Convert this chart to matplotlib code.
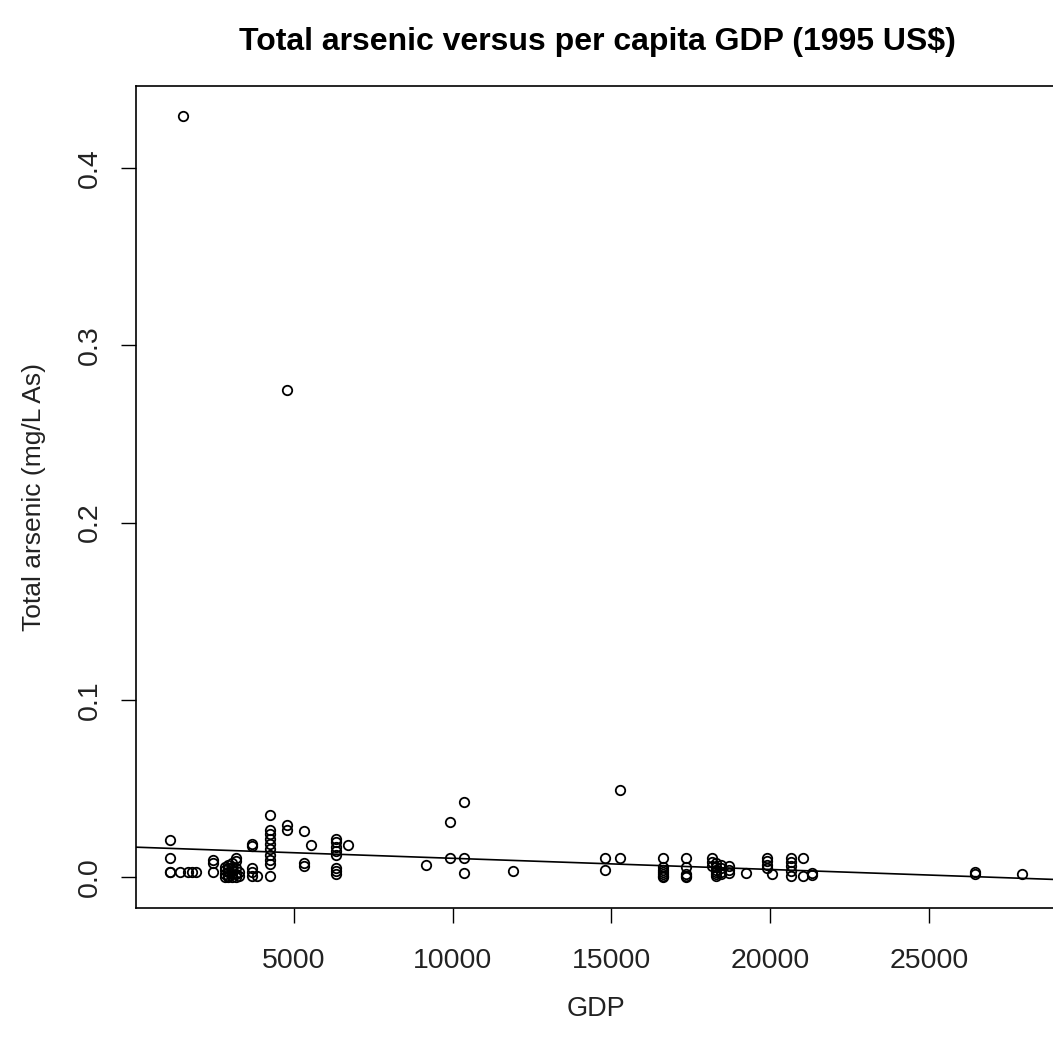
import numpy as np
import matplotlib
matplotlib.use('Agg')
import matplotlib.pyplot as plt

plt.rcParams['font.family'] = ['Liberation Sans', 'DejaVu Sans']

# per capita GDP (1995 US$) for each water sample
gdp = np.array([
    1120, 1120, 1120, 1120, 1425, 1509, 1667, 1805, 1940,
    2465, 2465, 2465,
    2850, 2850, 2850, 2850,
    2950, 2950, 2950, 2950, 2950,
    3050, 3050, 3050, 3050, 3050,
    3200, 3200, 3200, 3200, 3200,
    3300, 3300,
    3690, 3690, 3690, 3690, 3690, 3848,
    4270, 4270, 4270, 4270, 4270, 4270, 4270, 4270, 4270, 4270,
    4792, 4792, 4802,
    5315, 5315, 5315, 5546,
    6343, 6343, 6343, 6343, 6343, 6343, 6343, 6343, 6698,
    9173, 9906, 9906, 10368, 10368, 10368, 11899,
    14792, 14792, 15252, 15252,
    16616, 16616, 16616, 16616, 16616, 16616, 16616,
    17349, 17349, 17349, 17349, 17349,
    18157, 18157, 18157,
    18300, 18300, 18300, 18300, 18300, 18300,
    18450, 18450, 18450, 18450,
    18711, 18711, 18711, 19215,
    19887, 19887, 19887, 19887, 20063,
    20641, 20641, 20641, 20641, 20641,
    21038, 21038, 21302, 21302,
    26437, 26437, 27925,
])

# total arsenic (mg/L As)
arsenic = np.array([
    0.021, 0.011, 0.003, 0.003, 0.003, 0.429, 0.003, 0.003, 0.003,
    0.010, 0.008, 0.003,
    0.000, 0.002, 0.004, 0.006,
    0.001, 0.003, 0.005, 0.007, 0.000,
    0.008, 0.002, 0.000, 0.004, 0.006,
    0.011, 0.009, 0.002, 0.000, 0.005,
    0.003, 0.001,
    0.019, 0.0175, 0.005, 0.003, 0.001, 0.001,
    0.0353, 0.0265, 0.0246, 0.0218, 0.019, 0.0162, 0.0124, 0.0096, 0.0077, 0.001,
    0.0293, 0.0269, 0.275,
    0.0261, 0.0081, 0.0062, 0.018,
    0.0218, 0.0199, 0.0171, 0.0148, 0.0124, 0.0055, 0.0036, 0.002, 0.018,
    0.0068, 0.0312, 0.011, 0.0423, 0.011, 0.0024, 0.0036,
    0.011, 0.0043, 0.0494, 0.011,
    0.011, 0.006, 0.004, 0.003, 0.002, 0.001, 0.000,
    0.011, 0.0058, 0.002, 0.001, 0.000,
    0.011, 0.0086, 0.0066,
    0.008, 0.006, 0.004, 0.003, 0.002, 0.001,
    0.007, 0.005, 0.003, 0.002,
    0.0062, 0.0043, 0.0024, 0.0024,
    0.011, 0.0092, 0.0068, 0.0055, 0.002,
    0.011, 0.0086, 0.0062, 0.0036, 0.0006,
    0.011, 0.0006, 0.0024, 0.0011,
    0.003, 0.0017, 0.0017,
])

# fitted line as drawn on the original (intercept in mg/L, slope per US$)
fit_intercept = 0.0170
fit_slope = -6.3e-7

x_ticks = [5000, 10000, 15000, 20000, 25000]
y_ticks = [0.0, 0.1, 0.2, 0.3, 0.4]

fig = plt.figure(figsize=(10.53, 10.40), dpi=100)
# right edge of the plot box sits just past the image edge, like the original
ax = fig.add_axes([0.1292, 0.1272, 0.8742, 0.7901])

ax.plot(gdp, arsenic, linestyle='none', marker='o', markersize=6.8,
        markerfacecolor='none', markeredgecolor='black', markeredgewidth=1.3)

ax.axline((0, fit_intercept), slope=fit_slope, color='black', linewidth=1.2)

# R style 4% padding around the data range
xr = gdp.max() - gdp.min()
yr = arsenic.max() - arsenic.min()
ax.set_xlim(gdp.min() - 0.04 * xr, gdp.max() + 0.04 * xr)
ax.set_ylim(arsenic.min() - 0.04 * yr, arsenic.max() + 0.04 * yr)

ax.set_xticks(x_ticks)
ax.set_xticklabels([str(t) for t in x_ticks])
ax.set_yticks(y_ticks)
ax.set_yticklabels(['%.1f' % t for t in y_ticks], rotation=90, va='center')
ax.tick_params(axis='both', direction='out', length=11, width=1.0,
               labelsize=20.5, colors='black', labelcolor='#222222')
ax.tick_params(axis='x', pad=18)
ax.tick_params(axis='y', pad=13)

for s in ax.spines.values():
    s.set_linewidth(1.2)

ax.set_xlabel('GDP', fontsize=19.5, color='#222222', labelpad=16)
ax.set_ylabel('Total arsenic (mg/L As)', fontsize=19, color='#222222', labelpad=22)
fig.text(0.567, 0.960, 'Total arsenic versus per capita GDP (1995 US$)',
         ha='center', va='center', fontsize=23, fontweight='bold')

fig.savefig('out.png', dpi=100)
